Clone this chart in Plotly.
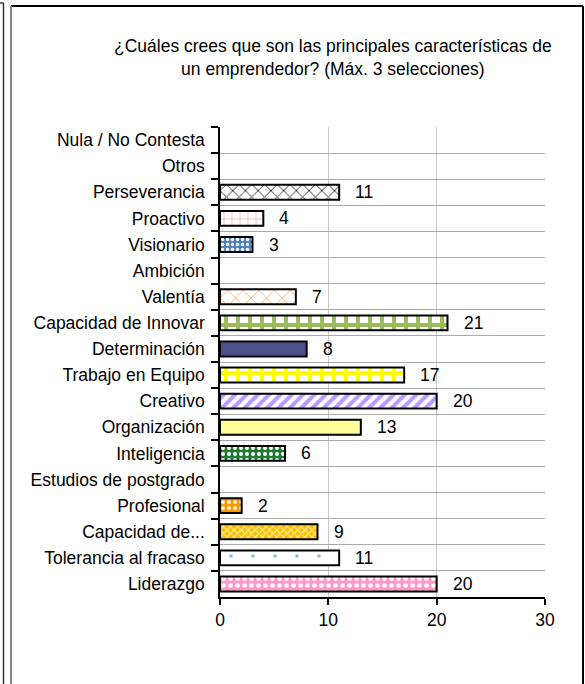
import plotly.graph_objects as go

categories = [
    "Nula / No Contesta", "Otros", "Perseverancia", "Proactivo", "Visionario",
    "Ambición", "Valentía", "Capacidad de Innovar", "Determinación",
    "Trabajo en Equipo", "Creativo", "Organización", "Inteligencia",
    "Estudios de postgrado", "Profesional", "Capacidad de...",
    "Tolerancia al fracaso", "Liderazgo",
]
values = [0, 0, 11, 4, 3, 0, 7, 21, 8, 17, 20, 13, 6, 0, 2, 9, 11, 20]
x_ticks = [0, 10, 20, 30]
title_text = ("¿Cuáles crees que son las principales características de<br>"
              "un emprendedor? (Máx. 3 selecciones)")

# pattern styles per bar (same order as categories)
p_shape = ["", "", "x", "+", ".", "", "x", "+", ".", "+", "/", "", ".", "", ".", "x", ".", "."]
p_bg = ["white", "white", "white", "white", "#4F81BD", "white", "white", "white", "#50508E",
        "white", "white", "#FFFF99", "#1E7B30", "white", "#FF9900", "#FFC000", "white", "#FF99CC"]
p_fg = ["white", "white", "#333333", "#E6A0A0", "white", "white", "#F79646", "#9BBB59", "#C8C8E8",
        "#FFFF00", "#B799FF", "#FFFF99", "white", "white", "white", "#FFF2B3", "#8DB4E2", "white"]
p_size = [8, 8, 9, 8, 5, 8, 11, 12, 22, 12, 8, 8, 6, 8, 6, 5, 22, 7]
p_sol = [0.3, 0.3, 0.2, 0.15, 0.35, 0.3, 0.12, 0.55, 0.03, 0.55, 0.5, 0.3, 0.35, 0.3, 0.3, 0.35, 0.02, 0.35]

FONT = "Arial, Liberation Sans, sans-serif"
FS = 17.5

fig = go.Figure()
for c, v, sh, bg, fg, sz, so in zip(categories, values, p_shape, p_bg, p_fg, p_size, p_sol):
    fig.add_trace(go.Bar(
        y=[c], x=[v], orientation="h", width=0.57,
        marker=dict(
            color=fg,
            line=dict(color="black", width=2 if v else 0),
            pattern=dict(shape=sh, bgcolor=bg, fgcolor=fg, size=sz,
                         solidity=so, fillmode="replace"),
        ),
        name=c, hoverinfo="x+y",
    ))

annotations = []
for c, v in zip(categories, values):
    if v:
        annotations.append(dict(x=v, y=c, xref="x", yref="y", text=str(v), showarrow=False,
                                xanchor="left", yanchor="middle", xshift=14,
                                font=dict(family=FONT, size=FS, color="black")))

W, H = 585, 684
L, R, T, B = 220, 545, 127, 597

def px(x):
    return (x - L) / (R - L)

def py(y):
    return (B - y) / (B - T)

annotations.append(dict(x=px(333), y=py(58), xref="paper", yref="paper", text=title_text,
                        showarrow=False, xanchor="center", yanchor="middle", align="center",
                        font=dict(family=FONT, size=FS, color="black")))

shapes = [
    dict(type="line", xref="paper", yref="paper", x0=px(11), x1=px(583), y0=py(6), y1=py(6),
         line=dict(color="black", width=2)),
    dict(type="line", xref="paper", yref="paper", x0=px(583), x1=px(583), y0=py(6), y1=py(720),
         line=dict(color="black", width=2)),
    dict(type="line", xref="paper", yref="paper", x0=px(11), x1=px(11), y0=py(6), y1=py(720),
         line=dict(color="#888888", width=2)),
    dict(type="line", xref="paper", yref="paper", x0=px(3.5), x1=px(3.5), y0=py(3), y1=py(720),
         line=dict(color="#333333", width=1.5)),
    dict(type="line", xref="paper", yref="paper", x0=px(0), x1=px(3.5), y0=py(3), y1=py(3),
         line=dict(color="#333333", width=1.5)),
]

fig.update_layout(
    width=W, height=H,
    margin=dict(l=L, r=W - R, t=T, b=H - B, pad=0),
    paper_bgcolor="white", plot_bgcolor="white",
    showlegend=False, barmode="overlay",
    font=dict(family=FONT, size=FS, color="black"),
    annotations=annotations,
    shapes=shapes,
)
fig.update_xaxes(
    range=[0, 30], tickvals=x_ticks, ticktext=[str(t) for t in x_ticks],
    showgrid=True, gridcolor="#C8C8C8", gridwidth=1,
    showline=True, linecolor="black", linewidth=1.5,
    ticks="outside", ticklen=6, tickcolor="black", tickwidth=1.5,
    tickfont=dict(family=FONT, size=FS, color="black"),
    zeroline=False, fixedrange=True,
)
fig.update_yaxes(
    type="category", categoryorder="array", categoryarray=categories,
    autorange="reversed", tickson="boundaries",
    showgrid=True, gridcolor="#AAAAAA", gridwidth=1,
    showline=True, linecolor="black", linewidth=1.5,
    ticks="outside", ticklen=7, tickcolor="black", tickwidth=1.5,
    ticklabelstandoff=10,
    tickfont=dict(family=FONT, size=FS, color="black"),
    fixedrange=True,
)

fig.write_html("out.html",
               config={"displayModeBar": False},
               post_script="document.body.style.margin='0';document.body.style.overflow='hidden';")
